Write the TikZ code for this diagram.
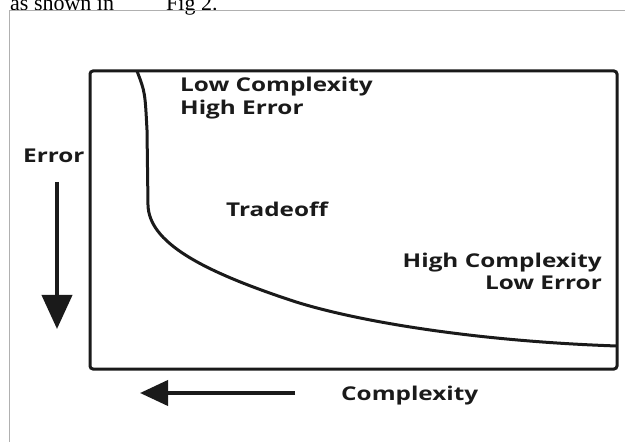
\documentclass[tikz,border=0pt]{standalone}
\usepackage{fontspec}
\setmainfont{Open Sans}
\newfontfamily\lblfont{Open Sans}[FakeStretch=1.28]
\newfontfamily\serifcap{Liberation Serif}
\usetikzlibrary{arrows.meta}
\definecolor{ink}{HTML}{1A1A1A}
\definecolor{framegray}{HTML}{B0B0B0}
\tikzset{
  lbl/.style={inner sep=0pt, text=ink, font=\lblfont\bfseries\fontsize{19bp}{22bp}\selectfont},
  captiontext/.style={inner sep=0pt, text=black, font=\serifcap\fontsize{22bp}{24bp}\selectfont},
  boxline/.style={line width=3bp, draw=ink, rounded corners=3bp},
  curveline/.style={line width=3bp, draw=ink, line join=round},
  bigarrow/.style={line width=4bp, draw=ink},
  frameline/.style={line width=1bp, draw=framegray}
}
\begin{document}
\begin{tikzpicture}[x=1bp,y=-1bp]
\useasboundingbox (0,0) rectangle (633,442);
\clip (0,0) rectangle (633,442);
\fill[white] (0,0) rectangle (633,442);
% caption fragment
\node[captiontext, anchor=base west] (captxt) at (10,10.5) {as shown in};
\node[captiontext, anchor=base west] (figtxt) at (166,10.5) {Fig 2.};
% page frame
\coordinate (fa) at (9,450);
\coordinate (fb) at (9,11);
\coordinate (fc) at (625,11);
\draw[frameline] (fa) -- (fb) -- (fc);
% main box
\coordinate (bl) at (90,369);
\coordinate (tr) at (617,71);
\draw[boxline] (bl) rectangle (tr);
% trade-off curve
\coordinate (c0) at (137,71);
\coordinate (c1) at (147,130);
\coordinate (c2) at (148,205);
\coordinate (c3) at (290,300);
\coordinate (c4) at (617,346);
\draw[curveline] (c0) .. controls (145,92) .. (c1) -- (c2)
  .. controls (149,242) and (200,270) .. (c3)
  .. controls (350,320) and (470,341) .. (c4);
% labels
\node[lbl, anchor=base west] (lowc) at (180,92) {Low Complexity};
\node[lbl, anchor=base west] (highe) at (180,115) {High Error};
\node[lbl, anchor=base west] (err) at (23,163) {Error};
\node[lbl, anchor=base west] (trade) at (226,217) {Tradeoff};
\node[lbl, anchor=base east] (highc) at (602,268) {High Complexity};
\node[lbl, anchor=base east] (lowe) at (602,290) {Low Error};
\node[lbl, anchor=base west] (cplx) at (341,400) {Complexity};
% arrows
\coordinate (ea) at (57,182);
\coordinate (eb) at (57,329);
\draw[bigarrow, -{Triangle[length=34bp,width=30bp]}] (ea) -- (eb);
\coordinate (ca) at (295,393);
\coordinate (cb) at (140,393);
\draw[bigarrow, -{Triangle[length=28bp,width=25bp]}] (ca) -- (cb);
\end{tikzpicture}
\end{document}
